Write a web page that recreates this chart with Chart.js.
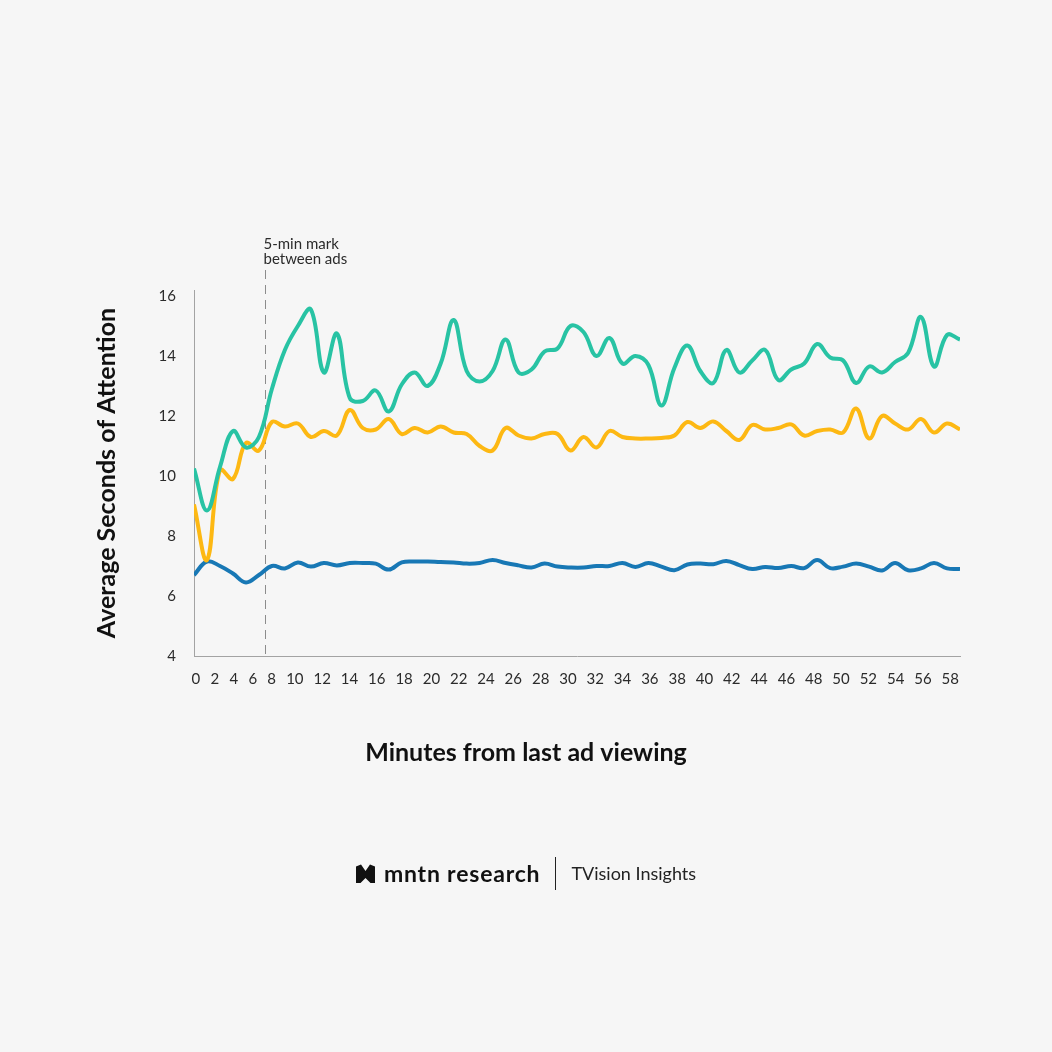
<!DOCTYPE html>
<html>
<head>
<meta charset="utf-8">
<script src="https://cdn.jsdelivr.net/npm/chart.js@4.4.1/dist/chart.umd.min.js"></script>
<style>
  html, body { margin: 0; padding: 0; background: #f6f6f6; }
  #wrap { position: relative; width: 1052px; height: 1052px; }
  #chart { position: absolute; left: 0; top: 0; }
  .footer {
    position: absolute; left: 0; top: 856px; width: 1052px; height: 34px;
    display: flex; justify-content: center; align-items: center;
    font-family: "Lato", sans-serif; color: #111;
  }
  .brand { font-size: 23px; font-weight: 700; letter-spacing: 0.8px; margin-left: 9px; }
  .sep { width: 1px; height: 33px; background: #222; margin: 0 15px; }
  .partner { font-size: 18px; color: #222; }
</style>
</head>
<body>
<div id="wrap">
  <canvas id="chart" width="1052" height="1052"></canvas>
  <div class="footer">
    <svg width="19" height="19" viewBox="0 0 19 19"><path d="M0 2.5 L5 0.5 L9.5 7 L14 0.5 L19 2.5 L19 19 L14.5 19 L9.5 14 L4.5 19 L0 19 Z" fill="#111"/></svg>
    <span class="brand">mntn research</span>
    <span class="sep"></span>
    <span class="partner">TVision Insights</span>
  </div>
</div>
<script>
// minutes since the last ad, one point per minute
var minutes = [];
for (var m = 0; m <= 59; m++) minutes.push(m);

var tealSeries = [10.25, 8.85, 10.3, 11.5, 10.95, 11.3, 12.9, 14.2, 15.0, 15.55,
                  13.45, 14.75, 12.6, 12.5, 12.85, 12.15, 13.05, 13.45, 13.0, 13.75,
                  15.2, 13.5, 13.15, 13.5, 14.55, 13.45, 13.55, 14.15, 14.25, 15.0,
                  14.8, 14.0, 14.6, 13.75, 14.0, 13.7, 12.35, 13.6, 14.35, 13.5,
                  13.1, 14.2, 13.45, 13.85, 14.2, 13.2, 13.55, 13.75, 14.4, 13.95,
                  13.85, 13.1, 13.65, 13.45, 13.8, 14.1, 15.3, 13.65, 14.7, 14.55];

var yellowSeries = [9.05, 7.2, 10.2, 9.9, 11.1, 10.85, 11.8, 11.65, 11.75, 11.3,
                    11.5, 11.35, 12.2, 11.6, 11.55, 11.9, 11.4, 11.6, 11.45, 11.65,
                    11.45, 11.4, 11.0, 10.85, 11.6, 11.35, 11.25, 11.4, 11.4, 10.85,
                    11.3, 10.95, 11.5, 11.3, 11.25, 11.25, 11.27, 11.35, 11.8, 11.6,
                    11.82, 11.5, 11.2, 11.7, 11.55, 11.6, 11.72, 11.35, 11.5, 11.55,
                    11.45, 12.25, 11.25, 12.0, 11.75, 11.55, 11.9, 11.45, 11.75, 11.55];

var blueSeries = [6.7, 7.15, 7.0, 6.75, 6.45, 6.7, 7.0, 6.92, 7.12, 6.98,
                  7.1, 7.02, 7.1, 7.1, 7.08, 6.88, 7.12, 7.15, 7.15, 7.13,
                  7.12, 7.08, 7.1, 7.2, 7.1, 7.02, 6.95, 7.08, 6.98, 6.95,
                  6.95, 7.0, 7.0, 7.1, 6.97, 7.1, 6.98, 6.86, 7.05, 7.08,
                  7.06, 7.17, 7.03, 6.9, 6.97, 6.93, 7.0, 6.93, 7.2, 6.93,
                  6.98, 7.08, 6.98, 6.85, 7.1, 6.86, 6.92, 7.1, 6.92, 6.9];

var xTickLabels = [];
for (var t = 0; t <= 58; t += 2) xTickLabels.push(String(t));
var yTicks = [4, 6, 8, 10, 12, 14, 16];
var markMinute = 5.5;

var FONT = "Lato";
var tickFont = { family: FONT, size: 15 };
var titleFont = { family: FONT, size: 25, weight: 'bold' };

// the minute labels sit in a plain text row (equal gaps between words),
// so their spacing follows the label widths, not the data
function rowPositions(labels, first, last) {
  var mctx = document.createElement('canvas').getContext('2d');
  mctx.font = tickFont.size + 'px ' + FONT;
  var w = labels.map(function (s) { return mctx.measureText(s).width; });
  var gap = 11, c = [0];
  for (var i = 1; i < w.length; i++) c.push(c[i - 1] + w[i - 1] / 2 + gap + w[i] / 2);
  var total = c[c.length - 1];
  return c.map(function (v) { return first + v / total * (last - first); });
}
var xTickMinutes = rowPositions(xTickLabels, 0.15, 58.25);

function series(values) {
  return values.map(function (v, i) { return { x: minutes[i], y: v }; });
}

var markPlugin = {
  id: 'mark',
  beforeDatasetsDraw: function (chart) {
    var ctx = chart.ctx, x = chart.scales.x, area = chart.chartArea;
    var px = Math.round(x.getPixelForValue(markMinute)) + 0.5;
    ctx.save();
    ctx.strokeStyle = '#8c8c8c';
    ctx.lineWidth = 1;
    ctx.setLineDash([9, 6]);
    ctx.beginPath();
    ctx.moveTo(px, area.top - 20);
    ctx.lineTo(px, area.bottom);
    ctx.stroke();
    ctx.setLineDash([]);
    ctx.fillStyle = '#2b2b2b';
    ctx.font = '15px ' + FONT;
    ctx.textBaseline = 'middle';
    ctx.textAlign = 'left';
    ctx.fillText('5-min mark', px - 2, area.top - 46);
    ctx.fillText('between ads', px - 2, area.top - 31);
    ctx.restore();
  }
};

new Chart(document.getElementById('chart').getContext('2d'), {
  type: 'line',
  data: {
    datasets: [
      { label: 'Teal', data: series(tealSeries), borderColor: '#28c3a4' },
      { label: 'Yellow', data: series(yellowSeries), borderColor: '#fdb813' },
      { label: 'Blue', data: series(blueSeries), borderColor: '#1878b5' }
    ]
  },
  options: {
    responsive: false,
    animation: false,
    layout: { padding: { top: 290, right: 0, bottom: 284, left: 0 } },
    plugins: {
      legend: { display: false },
      tooltip: { enabled: false },
      title: {
        display: true, position: 'bottom', text: 'Minutes from last ad viewing',
        color: '#111', font: titleFont, padding: 0
      }
    },
    elements: {
      point: { radius: 0 },
      line: { borderWidth: 4, tension: 0.4, fill: false }
    },
    scales: {
      x: {
        type: 'linear', min: 0, max: 59,
        grid: { display: false, drawTicks: false },
        border: { color: '#a3a3a3', width: 1 },
        ticks: {
          autoSkip: false, maxRotation: 0, padding: 14, color: '#2b2b2b', font: tickFont,
          callback: function (v, i) { return xTickLabels[i]; }
        },
        afterBuildTicks: function (s) { s.ticks = xTickMinutes.map(function (v) { return { value: v }; }); },
        afterFit: function (s) { s.height = 82; }
      },
      y: {
        type: 'linear', min: 4, max: 16.2,
        grid: { display: false, drawTicks: false },
        border: { color: '#a3a3a3', width: 1 },
        ticks: { padding: 18, color: '#2b2b2b', font: tickFont },
        afterBuildTicks: function (s) { s.ticks = yTicks.map(function (v) { return { value: v }; }); },
        afterFit: function (s) { s.width = 194; },
        title: {
          display: true, text: 'Average Seconds of Attention', color: '#111',
          font: titleFont, padding: { top: 92, bottom: 0 }
        }
      },
      // empty right-hand margin so the bottom title centres on the page
      yRight: {
        position: 'right', display: true,
        grid: { display: false, drawTicks: false },
        border: { display: false },
        ticks: { display: false },
        afterFit: function (s) { s.width = 92; }
      }
    }
  },
  plugins: [markPlugin]
});
</script>
</body>
</html>
